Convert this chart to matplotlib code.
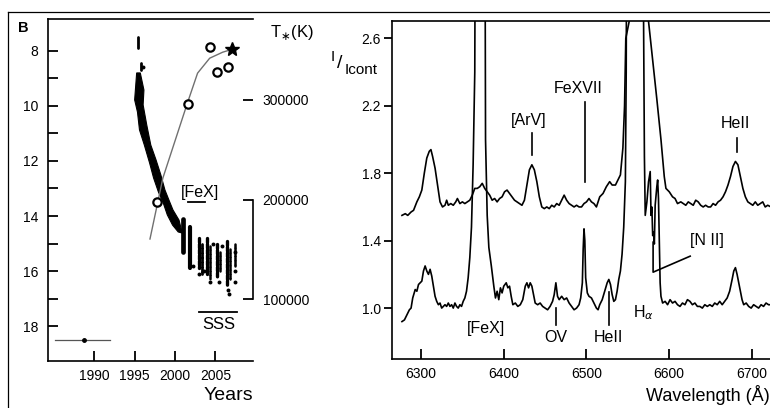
import numpy as np
import matplotlib
matplotlib.use('Agg')
import matplotlib.pyplot as plt
from matplotlib.lines import Line2D

plt.rcParams['font.family'] = ['Liberation Sans', 'DejaVu Sans']

W, H = 770, 408

# ---------------- left panel data ----------------
# dense decline band (year, mag), left edge then right edge
band_left_yr = [1995.25, 1995.0, 1995.35, 1995.6, 1996.2, 1996.85, 1997.35, 1997.95, 1998.55, 1999.05, 1999.7, 2000.4]
band_left_mag = [8.80, 9.78, 10.22, 10.87, 11.42, 12.07, 12.62, 13.13, 13.53, 13.96, 14.33, 14.58]
band_right_yr = [1995.70, 1996.15, 1996.05, 1996.5, 1997.0, 1997.65, 1998.25, 1998.75, 1999.25, 1999.75, 2000.5, 2000.9]
band_right_mag = [8.80, 9.42, 9.96, 10.69, 11.42, 11.96, 12.51, 13.05, 13.42, 13.78, 14.15, 14.62]

# seasonal streaks of points: year, brightest mag, faintest mag, width
streak_yr = [1995.43, 1995.75, 2001.0, 2001.9, 2002.95, 2003.3, 2004.0, 2004.4, 2005.2, 2005.6, 2006.5, 2006.85, 2007.4]
streak_top = [7.5, 8.45, 14.1, 14.4, 14.8, 15.0, 14.8, 15.1, 15.0, 15.3, 14.9, 15.2, 15.0]
streak_bot = [7.9, 8.7, 15.3, 15.9, 15.9, 16.1, 16.1, 16.3, 16.2, 16.0, 16.5, 16.3, 15.8]
streak_w = [2.0, 2.0, 3.4, 3.0, 2.4, 2.0, 2.4, 1.8, 2.4, 1.8, 2.4, 1.8, 1.8]
streak_dotted = [False, False, False, False, True, True, True, True, True, True, True, True, True]

# loose points
dot_yr = [2003.0, 2004.3, 2005.4, 2006.7, 2006.6, 2007.5, 2007.5, 2007.5, 2005.8, 2004.7, 1996.0, 2003.6, 2002.2]
dot_mag = [16.1, 16.4, 16.4, 16.85, 16.7, 16.0, 16.4, 15.3, 15.1, 15.0, 8.6, 16.0, 15.8]

# T* evolution
t_line_yr = [1996.9, 1998.5, 2001.5, 2002.8, 2004.3, 2005.9, 2007.1]
t_line_T = [160300, 221600, 296000, 327000, 342000, 348000, 351000]
t_circ_yr = [1997.8, 2001.6, 2004.3, 2005.2, 2006.6]
t_circ_T = [197500, 296000, 353000, 328000, 333000]
t_star_yr = [2007.1]
t_star_T = [351000]

# ---------------- right panel data ----------------
upper_wl = [6277, 6281, 6284, 6288, 6291, 6295, 6298, 6301, 6304, 6307, 6310, 6312, 6314, 6317, 6320, 6323,
            6326, 6329, 6331, 6333, 6336, 6339, 6342, 6344, 6347, 6350, 6353, 6356, 6359, 6362, 6365, 6368,
            6371, 6374, 6377, 6380, 6383, 6386, 6389, 6392, 6395, 6398, 6401, 6404, 6407, 6410, 6413, 6416,
            6419, 6422, 6425, 6428, 6431, 6434, 6437, 6440, 6443, 6446, 6449, 6452, 6455, 6458, 6461, 6464,
            6467, 6470, 6473, 6476, 6479, 6482, 6485, 6488, 6491, 6494, 6497, 6500, 6503, 6506, 6509, 6512,
            6516, 6520, 6524, 6528, 6531, 6535, 6538, 6541, 6544, 6546, 6547.5, 6572, 6575, 6580, 6585,
            6590, 6594, 6596, 6600, 6604, 6607, 6610, 6614, 6617, 6620, 6623, 6626, 6629, 6632, 6635, 6638,
            6641, 6644, 6647, 6650, 6653, 6656, 6659, 6662, 6665, 6668, 6671, 6674, 6677, 6680, 6683, 6686,
            6689, 6692, 6695, 6698, 6701, 6704, 6707, 6710, 6713, 6716, 6719, 6723]
upper_I = [1.55, 1.56, 1.55, 1.57, 1.58, 1.63, 1.66, 1.70, 1.80, 1.89, 1.93, 1.94, 1.90, 1.83, 1.73, 1.63,
           1.60, 1.61, 1.64, 1.61, 1.62, 1.61, 1.63, 1.65, 1.62, 1.63, 1.62, 1.63, 1.64, 1.67, 1.71, 1.71,
           1.72, 1.74, 1.71, 1.69, 1.67, 1.64, 1.65, 1.63, 1.65, 1.66, 1.69, 1.70, 1.68, 1.66, 1.64, 1.63,
           1.62, 1.61, 1.64, 1.73, 1.82, 1.85, 1.82, 1.75, 1.66, 1.60, 1.59, 1.60, 1.59, 1.61, 1.60, 1.62,
           1.61, 1.64, 1.67, 1.64, 1.62, 1.61, 1.60, 1.61, 1.60, 1.60, 1.62, 1.63, 1.65, 1.63, 1.62, 1.60,
           1.66, 1.68, 1.72, 1.75, 1.73, 1.73, 1.76, 1.79, 1.95, 2.20, 2.60, 3.20, 2.70, 2.47, 2.24,
           2.00, 1.78, 1.71, 1.69, 1.66, 1.65, 1.62, 1.63, 1.62, 1.61, 1.63, 1.62, 1.61, 1.64, 1.63, 1.61,
           1.60, 1.61, 1.60, 1.60, 1.62, 1.61, 1.63, 1.64, 1.66, 1.69, 1.73, 1.78, 1.84, 1.87, 1.85, 1.78,
           1.71, 1.66, 1.63, 1.62, 1.61, 1.63, 1.61, 1.62, 1.63, 1.60, 1.61, 1.60]

lower_wl = [6277, 6280, 6283, 6286, 6288, 6290, 6293, 6295, 6297, 6299, 6301, 6303, 6305, 6307, 6309, 6311,
            6313, 6315, 6317, 6319, 6321, 6323, 6325, 6327, 6329, 6331, 6333, 6335, 6337, 6339, 6341, 6343,
            6345, 6347, 6349, 6351, 6353, 6355, 6357, 6359, 6361, 6363, 6365, 6366, 6377, 6378, 6380, 6382,
            6385, 6388, 6390, 6392, 6394, 6396, 6398, 6400, 6403, 6405, 6407, 6409, 6411, 6414, 6417, 6420,
            6423, 6426, 6428, 6430, 6432, 6434, 6436, 6438, 6441, 6444, 6447, 6450, 6453, 6456, 6459, 6461,
            6463, 6465, 6467, 6470, 6473, 6476, 6479, 6482, 6485, 6488, 6491, 6493, 6495, 6496, 6497, 6498,
            6499, 6501, 6503, 6506, 6509, 6512, 6514, 6516, 6519, 6522, 6525, 6527, 6529, 6531, 6533, 6535,
            6537, 6539, 6541, 6543, 6545, 6547, 6548, 6549, 6568, 6569, 6570, 6571, 6573, 6575, 6577, 6578,
            6579, 6580, 6581, 6582, 6583, 6585, 6586, 6587, 6588, 6589, 6590, 6592, 6595, 6598, 6601, 6604,
            6607, 6610, 6613, 6616, 6619, 6622, 6625, 6628, 6631, 6634, 6637, 6640, 6643, 6646, 6649, 6652,
            6655, 6658, 6661, 6664, 6667, 6670, 6673, 6676, 6678, 6680, 6682, 6684, 6686, 6688, 6690, 6693,
            6696, 6699, 6702, 6705, 6708, 6711, 6714, 6717, 6720, 6723]
lower_I = [0.92, 0.93, 0.96, 0.99, 1.00, 1.06, 1.11, 1.10, 1.14, 1.15, 1.16, 1.22, 1.25, 1.22, 1.20, 1.23,
           1.19, 1.13, 1.07, 1.04, 1.02, 1.03, 1.00, 1.01, 1.02, 1.01, 1.03, 1.01, 1.02, 1.00, 1.03, 1.01,
           1.00, 1.02, 1.01, 1.04, 1.06, 1.10, 1.18, 1.30, 1.48, 1.85, 2.40, 4.00, 4.00, 2.00, 1.55, 1.36,
           1.25, 1.13, 1.06, 1.10, 1.05, 1.12, 1.09, 1.13, 1.15, 1.12, 1.13, 1.07, 1.02, 1.03, 1.01, 1.02,
           1.05, 1.13, 1.15, 1.12, 1.15, 1.13, 1.08, 1.03, 1.02, 1.03, 1.01, 1.00, 0.99, 1.01, 1.04, 1.08,
           1.15, 1.07, 1.05, 1.07, 1.05, 1.06, 1.03, 1.01, 0.99, 1.00, 1.02, 1.06, 1.15, 1.35, 1.47, 1.40,
           1.18, 1.09, 1.07, 1.06, 1.03, 1.00, 0.99, 1.02, 1.05, 1.10, 1.15, 1.17, 1.14, 1.08, 1.04, 1.05,
           1.10, 1.17, 1.22, 1.32, 1.48, 1.75, 2.40, 4.00, 4.00, 2.70, 1.90, 1.55, 1.63, 1.75, 1.81, 1.55,
           1.60, 1.43, 1.45, 1.38, 1.61, 1.72, 1.76, 1.65, 1.40, 1.15, 1.07, 1.03, 1.04, 1.02, 1.05, 1.03,
           1.04, 1.02, 1.01, 1.03, 1.02, 1.05, 1.04, 1.02, 1.03, 1.01, 1.01, 1.00, 1.02, 1.01, 1.02, 1.01,
           1.03, 1.02, 1.04, 1.02, 1.04, 1.06, 1.10, 1.17, 1.22, 1.24, 1.20, 1.15, 1.10, 1.05, 1.02, 1.03,
           1.01, 1.00, 1.02, 1.01, 1.00, 1.02, 1.01, 1.03, 1.02, 1.02]


def px(x, y):
    return x / W, 1 - y / H


fig = plt.figure(figsize=(W / 100, H / 100), dpi=100)

# outer frame (left and top only visible)
fig.add_artist(Line2D([8 / W, 8 / W], [0, 1 - 12 / H], transform=fig.transFigure, color='k', lw=0.9))
fig.add_artist(Line2D([8 / W, 1], [1 - 12 / H, 1 - 12 / H], transform=fig.transFigure, color='k', lw=0.9))

# ---------------- left panel ----------------
ax1 = fig.add_axes([48 / W, 1 - 361 / H, 205 / W, 342 / H])
ax1.set_xlim(1984.26, 2009.67)
ax1.set_ylim(19.27, 6.84)
ax1.set_xticks([1990, 1995, 2000, 2005])
ax1.set_yticks([8, 10, 12, 14, 16, 18])
ax1.set_yticks([9, 11, 13, 15, 17], minor=True)
ax1.tick_params(which='both', direction='in', length=7, width=1.3, labelsize=10, right=False, top=False)
ax1.tick_params(axis='y', pad=7)
ax1.tick_params(axis='x', pad=6)
for s in ['left', 'top', 'bottom']:
    ax1.spines[s].set_linewidth(1.2)
ax1.spines['right'].set_visible(False)

band_x = band_left_yr + band_right_yr[::-1]
band_y = band_left_mag + band_right_mag[::-1]
ax1.fill(band_x, band_y, color='k', lw=0.8, ec='k')
for yr, t, b, w, dotted in zip(streak_yr, streak_top, streak_bot, streak_w, streak_dotted):
    ls = (0, (1.2, 0.5)) if dotted else '-'
    ax1.plot([yr, yr], [t, b], color='k', lw=w, ls=ls, solid_capstyle='round', dash_capstyle='round')
ax1.scatter(dot_yr, dot_mag, s=8, color='k', lw=0)

# SSS, [FeX] markers and pre-outburst error bar
ax1.plot([2003.0, 2007.7], [17.5, 17.5], color='k', lw=1.3)
ax1.text(2005.4, 17.93, 'SSS', fontsize=12, ha='center', va='center')
ax1.plot([2001.6, 2003.7], [13.5, 13.5], color='k', lw=1.3)
ax1.text(2003.1, 13.13, '[FeX]', fontsize=11.5, ha='center', va='center')
ax1.plot([1985.1, 1991.96], [18.51, 18.51], color='#555555', lw=0.9)
ax1.plot([1988.7], [18.51], 'o', color='k', ms=2.5)

fig.text(*px(228, 395), 'Years', fontsize=14, ha='center', va='center')
fig.text(*px(23, 28), 'B', fontsize=10.5, fontweight='bold', ha='center', va='center')

ax2 = ax1.twinx()
ax2.set_ylim(37700, 381400)
ax2.set_yticks([100000, 200000, 300000])
ax2.set_yticklabels(['100000', '200000', '300000'])
ax2.tick_params(direction='in', length=7, width=1.3, labelsize=10, pad=7)
for s in ['left', 'top', 'bottom']:
    ax2.spines[s].set_visible(False)
ax2.spines['right'].set_linewidth(1.2)
ax2.spines['right'].set_bounds(100000, 200000)
ax2.plot(t_line_yr, t_line_T, color='#707070', lw=1.0)
ax2.plot(t_circ_yr, t_circ_T, 'o', mfc='white', mec='k', mew=1.6, ms=6)
ax2.plot(t_star_yr, t_star_T, '*', color='k', ms=10)
fig.text(*px(270, 32), r'T$_{\ast}$(K)', fontsize=12, ha='left', va='center')

# ---------------- right panel ----------------
ax3 = fig.add_axes([392 / W, 1 - 359 / H, 381 / W, 338 / H])
ax3.set_xlim(6264.96, 6725.4)
ax3.set_ylim(0.698, 2.703)
ax3.set_xticks([6300, 6400, 6500, 6600, 6700])
ax3.set_yticks([1.0, 1.4, 1.8, 2.2, 2.6])
ax3.set_yticklabels(['1.0', '1.4', '1.8', '2.2', '2.6'])
ax3.tick_params(axis='x', direction='in', length=7, width=1.3, labelsize=10, pad=6, top=False)
ax3.tick_params(axis='y', direction='out', length=6, width=1.3, labelsize=10, pad=2, right=False)
for s in ['left', 'top', 'bottom']:
    ax3.spines[s].set_linewidth(1.2)
ax3.spines['right'].set_visible(False)

ax3.plot(upper_wl, upper_I, color='k', lw=1.2)
ax3.plot(lower_wl, lower_I, color='k', lw=1.2)

# line identifications
fs = 11.5
ax3.text(6430.6, 2.11, '[ArV]', fontsize=fs, ha='center', va='center')
ax3.plot([6434.2, 6434.2], [2.04, 1.91], color='k', lw=1.2)
ax3.text(6490.5, 2.30, 'FeXVII', fontsize=fs, ha='center', va='center')
ax3.plot([6497.6, 6497.6], [2.22, 1.747], color='k', lw=1.2)
ax3.text(6680, 2.096, 'HeII', fontsize=fs, ha='center', va='center')
ax3.plot([6681.7, 6681.7], [2.007, 1.924], color='k', lw=1.2)
ax3.text(6379, 0.879, '[FeX]', fontsize=fs, ha='center', va='center')
ax3.text(6463, 0.828, 'OV', fontsize=fs, ha='center', va='center')
ax3.plot([6463, 6463], [1.0, 0.90], color='k', lw=1.2)
ax3.text(6526.6, 0.828, 'HeII', fontsize=fs, ha='center', va='center')
ax3.plot([6527, 6527], [1.095, 0.90], color='k', lw=1.2)
ax3.text(6556.3, 0.97, r'H$_\alpha$', fontsize=fs, ha='left', va='center')
ax3.text(6646, 1.40, '[N II]', fontsize=fs, ha='center', va='center')
ax3.plot([6580.5, 6580.5, 6625.3], [1.391, 1.213, 1.308], color='k', lw=1.2)

fig.text(*px(333, 57), 'I', fontsize=11, ha='center', va='center')
fig.text(*px(340, 64), '/', fontsize=14, ha='center', va='center')
fig.text(*px(345, 70), 'Icont', fontsize=11, ha='left', va='center')
fig.text(*px(708, 395), 'Wavelength (Å)', fontsize=13, ha='center', va='center')

fig.savefig('out.png', dpi=100)
